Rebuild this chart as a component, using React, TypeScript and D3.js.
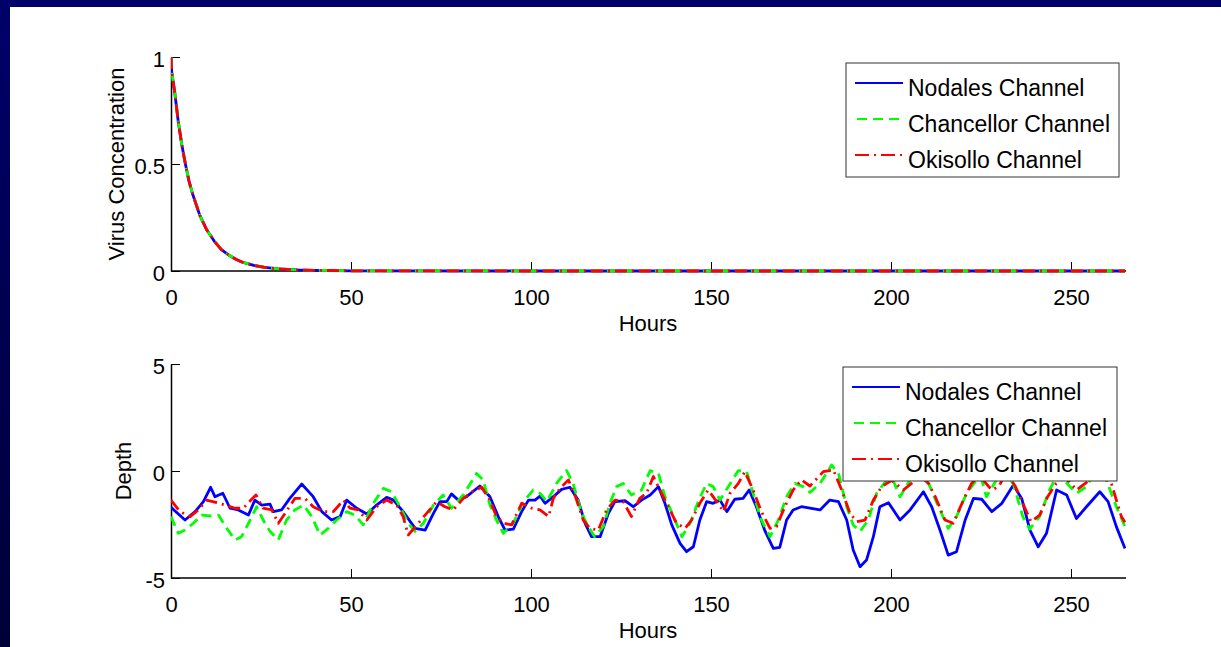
import * as d3 from "d3";
import { useRef, useEffect } from "react";

// hours vs virus concentration (top panel)
const nodalesVirus: [number, number][] = [
  [0, 1], [0.2, 0.93], [1, 0.84], [2, 0.7], [3, 0.59], [4, 0.5], [5, 0.42], [6, 0.36], [7, 0.31],
  [8, 0.26], [10, 0.19], [12, 0.14], [14, 0.1], [16, 0.075], [18, 0.055], [20, 0.04], [23, 0.026],
  [26, 0.017], [30, 0.01], [35, 0.005], [40, 0.003], [50, 0.001], [100, 0], [265, 0],
];
const chancellorVirus: [number, number][] = [
  [0, 1], [0.2, 0.93], [1, 0.84], [2, 0.7], [3, 0.59], [4, 0.5], [5, 0.42], [6, 0.36], [7, 0.31],
  [8, 0.26], [10, 0.19], [12, 0.14], [14, 0.1], [16, 0.075], [18, 0.055], [20, 0.04], [23, 0.026],
  [26, 0.017], [30, 0.01], [35, 0.005], [40, 0.003], [50, 0.001], [100, 0], [265, 0],
];
const okisolloVirus: [number, number][] = [
  [0, 1], [0.2, 0.93], [1, 0.84], [2, 0.7], [3, 0.59], [4, 0.5], [5, 0.42], [6, 0.36], [7, 0.31],
  [8, 0.26], [10, 0.19], [12, 0.14], [14, 0.1], [16, 0.075], [18, 0.055], [20, 0.04], [23, 0.026],
  [26, 0.017], [30, 0.01], [35, 0.005], [40, 0.003], [50, 0.001], [100, 0], [265, 0],
];

// hours vs depth (bottom panel)
const nodalesDepth: [number, number][] = [
  [0, -1.7], [3.9, -2.29], [6.7, -1.9], [9, -1.43], [11, -0.76], [12.2, -1.2], [14.4, -1.04], [16.4, -1.74],
  [18.7, -1.82], [21.5, -2.06], [23.3, -1.36], [25.2, -1.59], [27.5, -1.55], [28.4, -1.9], [30.7, -1.82],
  [33, -1.28], [36.3, -0.61], [39.5, -1.2], [41.9, -1.9], [44.6, -2.29], [47, -2.13], [48.8, -1.36],
  [51.6, -1.74], [54.4, -2.01], [57.1, -1.59], [59.9, -1.23], [61.8, -1.36], [64.5, -1.9], [67.8, -2.68],
  [70.6, -2.76], [72.9, -1.98], [74.7, -1.43], [76.6, -1.43], [77.9, -1.07], [79.8, -1.36], [82.1, -1.2],
  [85.8, -0.7], [88.6, -1.2], [90.9, -2.13], [92.8, -2.76], [95.1, -2.72], [97.4, -1.9], [99.3, -1.36],
  [101.1, -1.36], [102.5, -1.17], [103.9, -1.51], [106.2, -1.2], [108.5, -0.86], [110.8, -0.76],
  [113.1, -1.36], [115, -2.44], [116.8, -3.07], [119.2, -3.07], [121.5, -1.98], [123.3, -1.43],
  [126.1, -1.39], [128.4, -1.67], [130.7, -1.36], [133.1, -1.12], [135.4, -0.73], [137.2, -1.51],
  [139.1, -2.52], [141.4, -3.38], [143.2, -3.77], [145.1, -3.54], [146.9, -2.29], [148.8, -1.43],
  [150.6, -1.51], [152.5, -1.36], [154.4, -1.9], [156.6, -1.32], [158.9, -1.28], [160.6, -0.89],
  [162.6, -1.67], [164.9, -2.76], [167.3, -3.62], [169.1, -3.57], [171, -2.29], [172.8, -1.82],
  [175.1, -1.67], [177.5, -1.74], [180.3, -1.82], [183, -1.36], [185.4, -1.43], [187.7, -2.29],
  [189.5, -3.69], [191.4, -4.47], [193.2, -4.16], [195.1, -3.07], [196.9, -1.67], [199.3, -1.48],
  [202.5, -2.29], [205.3, -1.82], [209, -0.97], [211.3, -1.67], [213.6, -2.76], [215.9, -3.93],
  [218.2, -3.77], [220.6, -2.29], [222.9, -1.28], [225.2, -1.32], [228, -1.9], [230.8, -1.51],
  [234, -0.66], [236.3, -1.28], [238.6, -2.76], [240.9, -3.54], [243.2, -2.91], [246, -0.89],
  [248.8, -1.12], [251.5, -2.22], [254.3, -1.67], [258, -0.97], [260.3, -1.43], [262.6, -2.6], [265, -3.62],
];
const chancellorDepth: [number, number][] = [
  [0, -2.13], [2, -2.91], [3.9, -2.76], [6.2, -2.44], [8.5, -2.06], [10.8, -2.1], [13.2, -2.06],
  [15.5, -2.68], [17.8, -3.22], [19.6, -3.07], [22, -2.29], [23.8, -1.67], [25.6, -2.29], [27.5, -2.82],
  [29.8, -3.22], [32.1, -2.29], [34.4, -1.82], [36.8, -1.59], [39.1, -2.13], [41.4, -2.99], [43.7, -2.68],
  [46, -2.29], [48.8, -1.9], [51.1, -2.06], [53.4, -2.52], [56.2, -1.51], [59, -0.81], [61.3, -0.97],
  [63.6, -1.67], [65.9, -2.44], [67.8, -2.82], [70.1, -2.44], [72.9, -1.59], [75.6, -1.12], [77.9, -1.74],
  [81.2, -1.12], [84.9, -0.11], [86.7, -0.42], [88.6, -1.59], [90.4, -2.29], [92.3, -2.91], [95.1, -2.44],
  [97.9, -1.43], [100.6, -0.89], [102.5, -1.04], [104.4, -1.43], [107.1, -0.58], [109.9, 0.02],
  [111.7, -0.58], [114.1, -1.98], [115.9, -2.6], [117.7, -3.07], [120.1, -2.6], [121.9, -1.51],
  [123.8, -0.73], [125.6, -0.58], [127.9, -1.12], [130.7, -0.89], [133.1, 0.02], [135.4, -0.11],
  [137.2, -1.2], [139.6, -2.13], [141.9, -3.07], [144.2, -2.44], [146.6, -1.36], [148.8, -0.58],
  [150.6, -0.73], [152.5, -1.36], [154.8, -0.73], [157.6, 0.02], [159.9, -0.03], [161.7, -1.04],
  [164, -2.29], [166.4, -3.07], [168.7, -2.29], [171, -1.2], [173.3, -0.58], [175.6, -0.73],
  [177.5, -1.0], [180.3, -0.58], [183.5, 0.28], [185.4, -0.11], [187.7, -1.67], [189.5, -2.52],
  [191.4, -2.82], [193.7, -2.29], [196, -1.04], [198.8, -0.42], [200.5, -0.4], [202.5, -1.2],
  [205.3, -0.42], [208, 0.0], [210.5, -0.6], [213.2, -1.67], [215.9, -2.68], [218.2, -2.13], [221, -1.04],
  [223.8, -0.42], [225, -0.3], [226.5, -1.2], [229, -0.5], [231.5, 0.0], [234, -0.6], [236.6, -2.13],
  [238.5, -2.72], [241.3, -2.13], [244, -0.89], [246.5, -0.1], [249.7, -0.73], [251.5, -1.04],
  [254.3, -0.73], [256.5, -0.1], [259.8, -0.42], [262.6, -1.67], [265, -2.6],
];
const okisolloDepth: [number, number][] = [
  [0, -1.36], [2.5, -1.9], [5.3, -2.13], [7.6, -1.82], [9.9, -1.36], [12.7, -1.48], [15, -1.59],
  [17.8, -1.74], [20.1, -1.74], [22.4, -1.32], [23.6, -1.12], [25.6, -1.74], [28, -1.82], [29.8, -2.44],
  [31.7, -1.98], [34.4, -1.28], [37.2, -1.28], [39.5, -1.67], [42.3, -1.9], [45.1, -1.9], [47.9, -1.36],
  [49.7, -1.74], [52, -1.82], [54.4, -2.29], [57.1, -1.67], [59.9, -1.36], [62.7, -1.59], [64.5, -2.13],
  [65.9, -2.99], [68.3, -2.52], [71, -1.98], [73.8, -1.43], [76.1, -1.67], [78.4, -1.82], [81.2, -1.28],
  [84, -0.92], [86.3, -0.76], [88.6, -1.36], [90.4, -2.13], [92.3, -2.44], [94.6, -2.52], [97.4, -1.51],
  [100.2, -1.74], [102.5, -1.82], [104.9, -2.13], [106.2, -1.28], [108.1, -0.8], [110.4, -0.42],
  [112.2, -1.12], [114.5, -2.29], [116.4, -2.68], [118.7, -2.76], [121, -1.82], [123.3, -1.36],
  [125.6, -1.43], [127.9, -2.13], [130.2, -1.28], [132.1, -1.04], [134, -0.26], [135.8, -0.89],
  [138.6, -1.82], [140.4, -2.44], [142.8, -2.68], [144.6, -2.29], [146.9, -1.51], [149.2, -0.89],
  [151.6, -1.43], [153.5, -1.9], [155.3, -1.04], [157.6, -0.58], [159.4, -0.03], [161.7, -0.89],
  [164, -1.9], [166.4, -2.68], [168.2, -2.6], [170.5, -1.67], [172.8, -0.89], [175.1, -0.42],
  [177.5, -0.7], [181.2, -0.03], [184, 0.05], [186.3, -0.89], [188.6, -1.98], [190.5, -2.37],
  [192.8, -2.29], [195.1, -1.36], [197.4, -0.73], [200.2, -0.44], [203.4, -0.89], [205.7, -0.58],
  [208, -0.2], [210.5, -0.6], [212.3, -1.2], [215, -2.29], [217.3, -2.44], [220.1, -1.36], [222.4, -0.58],
  [224.5, -0.2], [226.5, -0.6], [228, -0.89], [229.9, -0.73], [232, -0.1], [234.5, -0.7], [236.6, -1.51],
  [238.9, -2.37], [241.3, -2.06], [243.5, -1.2], [245.9, -0.58], [248, -0.3], [249.6, -0.51],
  [251.5, -0.89], [253.3, -0.66], [257, -0.2], [261.1, -0.51], [262.6, -1.36], [264, -2.13], [265, -2.4],
];

const channelNames = ["Nodales Channel", "Chancellor Channel", "Okisollo Channel"];
const hourTicks = [0, 50, 100, 150, 200, 250];
const virusTicks = [0, 0.5, 1];
const depthTicks = [-5, 0, 5];

const colors = ["#0000ff", "#00ff00", "#ff0000"];
const dashes = [null, "10,6", "12,5,2,5"];
const font = "'Liberation Sans', Arial, Helvetica, sans-serif";

export default function App() {
  const svgRef = useRef<SVGSVGElement | null>(null);

  useEffect(() => {
    const width = 1221;
    const height = 647;
    const svg = d3.select(svgRef.current);
    svg.selectAll("*").remove();
    svg.attr("width", width).attr("height", height).attr("viewBox", [0, 0, width, height]);

    // slide background: navy frame, white page
    const grad = svg.append("defs").append("linearGradient")
      .attr("id", "frame").attr("x1", 0).attr("y1", 0).attr("x2", 0).attr("y2", 1);
    grad.append("stop").attr("offset", "0%").attr("stop-color", "#00006a");
    grad.append("stop").attr("offset", "100%").attr("stop-color", "#000038");
    svg.append("rect").attr("width", width).attr("height", height).attr("fill", "url(#frame)");
    svg.append("rect").attr("x", 10).attr("y", 7).attr("width", width - 10).attr("height", height - 7).attr("fill", "#fff");

    const x = d3.scaleLinear().domain([0, 265]).range([171, 1125]);

    const panels = [
      { top: 57, bottom: 271, domain: [0, 1], ticks: virusTicks, label: "Virus Concentration", labelX: 124,
        series: [nodalesVirus, chancellorVirus, okisolloVirus],
        legend: { x: 846, y: 63, w: 273, h: 114, lineX: 855, textX: 908, rows: [83, 119, 155] } },
      { top: 364, bottom: 578, domain: [-5, 5], ticks: depthTicks, label: "Depth", labelX: 131,
        series: [nodalesDepth, chancellorDepth, okisolloDepth],
        legend: { x: 843, y: 367, w: 274, h: 114, lineX: 852, textX: 905, rows: [387, 423, 459] } },
    ];

    panels.forEach((p, i) => {
      const y = d3.scaleLinear().domain(p.domain).range([p.bottom, p.top]);
      const g = svg.append("g");

      g.append("clipPath").attr("id", `clip${i}`)
        .append("rect").attr("x", 171).attr("y", p.top - 2).attr("width", 955).attr("height", p.bottom - p.top + 4);

      // x axis
      g.append("g")
        .attr("transform", `translate(0,${p.bottom})`)
        .call(d3.axisBottom(x).tickValues(hourTicks).tickSize(-9).tickSizeOuter(0).tickPadding(18).tickFormat((d) => String(d)))
        .call((a) => a.select(".domain").attr("stroke-width", 1.5).attr("d", `M171,0H1126`))
        .call((a) => a.selectAll("text").attr("font-size", 22).attr("font-family", font).attr("fill", "#000"));

      // y axis
      g.append("g")
        .attr("transform", `translate(171,0)`)
        .call(d3.axisLeft(y).tickValues(p.ticks).tickSize(-9).tickSizeOuter(0).tickPadding(6).tickFormat((d) => String(d)))
        .call((a) => a.select(".domain").attr("stroke-width", 1.5))
        .call((a) => a.selectAll("text").attr("font-size", 22).attr("font-family", font).attr("fill", "#000").attr("dy", "0.45em"));

      g.append("text")
        .attr("x", 648).attr("y", p.bottom + 60)
        .attr("text-anchor", "middle").attr("font-size", 22).attr("font-family", font)
        .text("Hours");

      g.append("text")
        .attr("transform", `translate(${p.labelX},${(p.top + p.bottom) / 2}) rotate(-90)`)
        .attr("text-anchor", "middle").attr("font-size", 22).attr("font-family", font)
        .text(p.label);

      const line = d3.line<[number, number]>().x((d) => x(d[0])).y((d) => y(d[1]));
      p.series.forEach((s, k) => {
        g.append("path")
          .attr("clip-path", `url(#clip${i})`)
          .attr("d", line(s))
          .attr("fill", "none")
          .attr("stroke", colors[k])
          .attr("stroke-width", 2.8)
          .attr("stroke-dasharray", dashes[k])
          .attr("stroke-linejoin", "round");
      });

      // legend
      const L = p.legend;
      const lg = g.append("g");
      lg.append("rect").attr("x", L.x).attr("y", L.y).attr("width", L.w).attr("height", L.h)
        .attr("fill", "#fff").attr("stroke", "#333").attr("stroke-width", 1);
      channelNames.forEach((name, k) => {
        lg.append("line")
          .attr("x1", L.lineX).attr("x2", L.lineX + 48)
          .attr("y1", L.rows[k]).attr("y2", L.rows[k])
          .attr("stroke", colors[k]).attr("stroke-width", 2)
          .attr("stroke-dasharray", k === 1 ? "10,6" : k === 2 ? "14,5,2,5" : null)
          .attr("stroke-dashoffset", k === 1 ? -2 : 0);
        lg.append("text")
          .attr("x", L.textX).attr("y", L.rows[k] + 13)
          .attr("font-size", 23).attr("font-family", font)
          .text(name);
      });
    });
  }, []);

  return <svg ref={svgRef} style={{ position: "absolute", left: 0, top: 0, display: "block" }}></svg>;
}
